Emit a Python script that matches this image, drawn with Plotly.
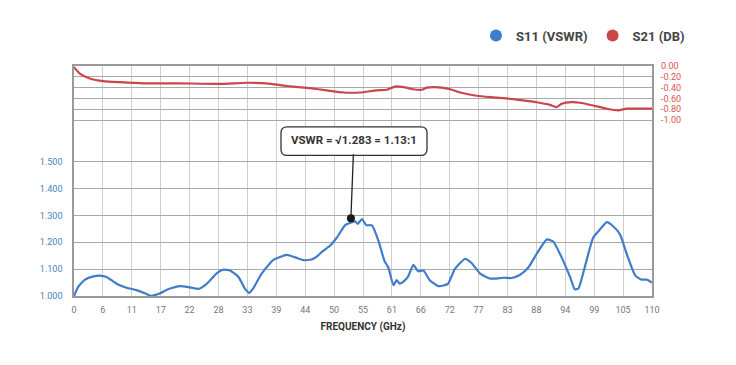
import plotly.graph_objects as go

# ---------------- data ----------------
s11_freq = [0, 0.8, 2.1, 3.7, 4.9, 6.2, 8.1, 10.0, 11.9, 13.5,
            14.6, 16.4, 17.9, 20.2, 22.1, 23.8, 25.3, 27.2, 28.4, 29.7,
            31.3, 32.5, 33.4, 34.1, 35.7, 37.9, 40.5, 42.1, 43.6, 45.2,
            46.2, 47.4, 48.7, 50.0, 51.6, 52.5, 53.5, 54.0, 54.8, 55.6,
            56.7, 57.9, 59.1, 59.8, 60.8, 61.4, 62.0, 63.0, 63.6, 64.6,
            65.5, 66.5, 67.7, 69.3, 70.3, 71.2, 72.5, 74.4, 75.7, 77.3,
            79.2, 80.4, 81.7, 83.3, 84.9, 86.5, 88.1, 90.0, 91.2, 92.8,
            94.4, 95.3, 96.0, 97.2, 98.8, 100.1, 101.4, 102.6, 103.9, 105.2,
            106.8, 108.0, 109.0, 110.0]
s11_vswr = [1.000, 1.034, 1.061, 1.073, 1.076, 1.071, 1.046, 1.031, 1.022, 1.010,
            1.001, 1.010, 1.025, 1.037, 1.032, 1.027, 1.046, 1.085, 1.098, 1.095,
            1.071, 1.028, 1.012, 1.028, 1.083, 1.134, 1.153, 1.144, 1.134, 1.136,
            1.147, 1.168, 1.187, 1.217, 1.264, 1.272, 1.278, 1.269, 1.287, 1.264,
            1.263, 1.208, 1.130, 1.107, 1.040, 1.059, 1.046, 1.059, 1.073, 1.116,
            1.092, 1.095, 1.059, 1.037, 1.039, 1.046, 1.101, 1.138, 1.122, 1.083,
            1.065, 1.065, 1.068, 1.067, 1.079, 1.107, 1.159, 1.211, 1.203, 1.144,
            1.071, 1.025, 1.028, 1.107, 1.217, 1.248, 1.275, 1.260, 1.230, 1.156,
            1.077, 1.061, 1.061, 1.050]

s21_freq = [0, 1.1, 3.0, 5.6, 8.8, 13.2, 19.5, 27.8, 32.9, 36.7,
            40.5, 44.9, 48.1, 51.3, 54.4, 57.6, 59.5, 61.1, 62.7, 64.5,
            66.2, 67.1, 68.7, 70.0, 71.6, 73.5, 76.6, 79.8, 82.3, 84.9,
            88.0, 90.6, 91.8, 92.8, 94.7, 96.3, 98.8, 101.4, 103.6, 105.2,
            107.7, 110.0]
s21_db = [-0.02, -0.14, -0.23, -0.28, -0.30, -0.32, -0.32, -0.33, -0.31, -0.32,
          -0.37, -0.41, -0.45, -0.49, -0.49, -0.45, -0.44, -0.38, -0.39, -0.43,
          -0.44, -0.40, -0.39, -0.40, -0.43, -0.49, -0.55, -0.58, -0.60, -0.63,
          -0.67, -0.72, -0.76, -0.70, -0.67, -0.68, -0.73, -0.79, -0.82, -0.79,
          -0.79, -0.79]

marker_freq = [52.7]
marker_vswr = [1.29]

x_tickvals = [i * 5.5 for i in range(21)]
x_ticktext = ["0", "6", "11", "17", "22", "28", "33", "39", "44", "50", "55",
              "61", "66", "72", "77", "83", "88", "94", "99", "105", "110"]
left_tickvals = [1.0, 1.1, 1.2, 1.3, 1.4, 1.5]
left_ticktext = ["1.000", "1.100", "1.200", "1.300", "1.400", "1.500"]
right_tickvals = [0.0, -0.2, -0.4, -0.6, -0.8, -1.0]
right_ticktext = ["0.00", "-0.20", "-0.40", "-0.60", "-0.80", "-1.00"]

annotation_text = "VSWR = √1.283 = 1.13:1"

# ---------------- styling ----------------
BLUE = "#3f7dc8"
RED = "#c9474b"
FONT = "Roboto, Arial, sans-serif"

OFF = 8  # page body margin in the screenshot
W, H = 736, 365
PW, PH = 578, 234
L, T = 74 - OFF, 62 - OFF
R, B = W - L - PW, H - T - PH

fig = go.Figure()

fig.add_trace(go.Scatter(x=s11_freq, y=s11_vswr, mode="lines", yaxis="y",
                         line=dict(color=BLUE, width=2.2, shape="spline", smoothing=0.5),
                         showlegend=False, hoverinfo="skip"))
fig.add_trace(go.Scatter(x=s21_freq, y=s21_db, mode="lines", yaxis="y2",
                         line=dict(color=RED, width=2.2, shape="spline", smoothing=0.5),
                         showlegend=False, hoverinfo="skip"))
fig.add_trace(go.Scatter(x=marker_freq, y=marker_vswr, mode="markers", yaxis="y",
                         marker=dict(color="#1a1a1a", size=8),
                         showlegend=False, hoverinfo="skip"))
# legend entries
fig.add_trace(go.Scatter(x=[None], y=[None], mode="markers", name="S11 (VSWR)",
                         marker=dict(color=BLUE, size=12)))
fig.add_trace(go.Scatter(x=[None], y=[None], mode="markers", name="S21 (DB)",
                         marker=dict(color=RED, size=12)))

# rounded callout box (paper coords from screenshot pixel geometry)
def X(px):
    return (px - 74) / PW

def Y(py):
    return (62 + PH - py) / PH

bx0, bx1, by0, by1, rr = 281, 427, 124, 153, 6
path = (f"M {X(bx0+rr)},{Y(by0)} L {X(bx1-rr)},{Y(by0)} "
        f"Q {X(bx1)},{Y(by0)} {X(bx1)},{Y(by0+rr)} L {X(bx1)},{Y(by1-rr)} "
        f"Q {X(bx1)},{Y(by1)} {X(bx1-rr)},{Y(by1)} L {X(bx0+rr)},{Y(by1)} "
        f"Q {X(bx0)},{Y(by1)} {X(bx0)},{Y(by1-rr)} L {X(bx0)},{Y(by0+rr)} "
        f"Q {X(bx0)},{Y(by0)} {X(bx0+rr)},{Y(by0)} Z")
fig.add_shape(type="path", xref="paper", yref="paper", path=path,
              line=dict(color="#333333", width=1.3), fillcolor="white", layer="above")

fig.add_annotation(x=marker_freq[0], y=marker_vswr[0], xref="x", yref="y",
                   text=f"<b>{annotation_text}</b>", showarrow=True,
                   ax=3, ay=-78, arrowhead=0, arrowwidth=1.3, arrowcolor="#222222",
                   font=dict(family=FONT, size=11.5, color="#333333"),
                   borderpad=7, borderwidth=0, bgcolor="rgba(0,0,0,0)")

fig.update_layout(
    width=W, height=H,
    margin=dict(l=L, r=R, t=T, b=B),
    paper_bgcolor="white", plot_bgcolor="white",
    font=dict(family=FONT),
    showlegend=True,
    legend=dict(orientation="h", x=X(690), xanchor="right", y=Y(31), yanchor="middle",
                font=dict(family=FONT, size=13, color="#444444", weight="bold"),
                itemwidth=30, bgcolor="rgba(0,0,0,0)"),
    xaxis=dict(range=[0, 110], tickvals=x_tickvals, ticktext=x_ticktext,
               showgrid=True, gridcolor="#cfcfcf", gridwidth=1.2,
               showline=True, linecolor="#9a9a9a", linewidth=1.5, mirror=True,
               zeroline=False, ticks="", ticklabelstandoff=4,
               tickfont=dict(family=FONT, size=9, color="#777777"),
               title=dict(text="<b>FREQUENCY (GHz)</b>", standoff=9,
                          font=dict(family=FONT, size=10, color="#333333"))),
    yaxis=dict(range=[1.0, 1.0 + PH / 273.0], tickvals=left_tickvals, ticktext=left_ticktext,
               showgrid=True, gridcolor="#a8a8a8", gridwidth=1.3,
               showline=True, linecolor="#9a9a9a", linewidth=1.5, mirror=True,
               zeroline=False, ticks="", ticklabelstandoff=8,
               tickfont=dict(family=FONT, size=9, color="#4a7fc1")),
    yaxis2=dict(range=[-PH / 55.0, 0.0], overlaying="y", side="right",
                tickvals=right_tickvals, ticktext=right_ticktext,
                showgrid=True, gridcolor="#a8a8a8", gridwidth=1.3,
                zeroline=False, ticks="", ticklabelstandoff=8, showline=False,
                tickfont=dict(family=FONT, size=9, color="#d9534f")),
)

fig.write_html("out.html")
